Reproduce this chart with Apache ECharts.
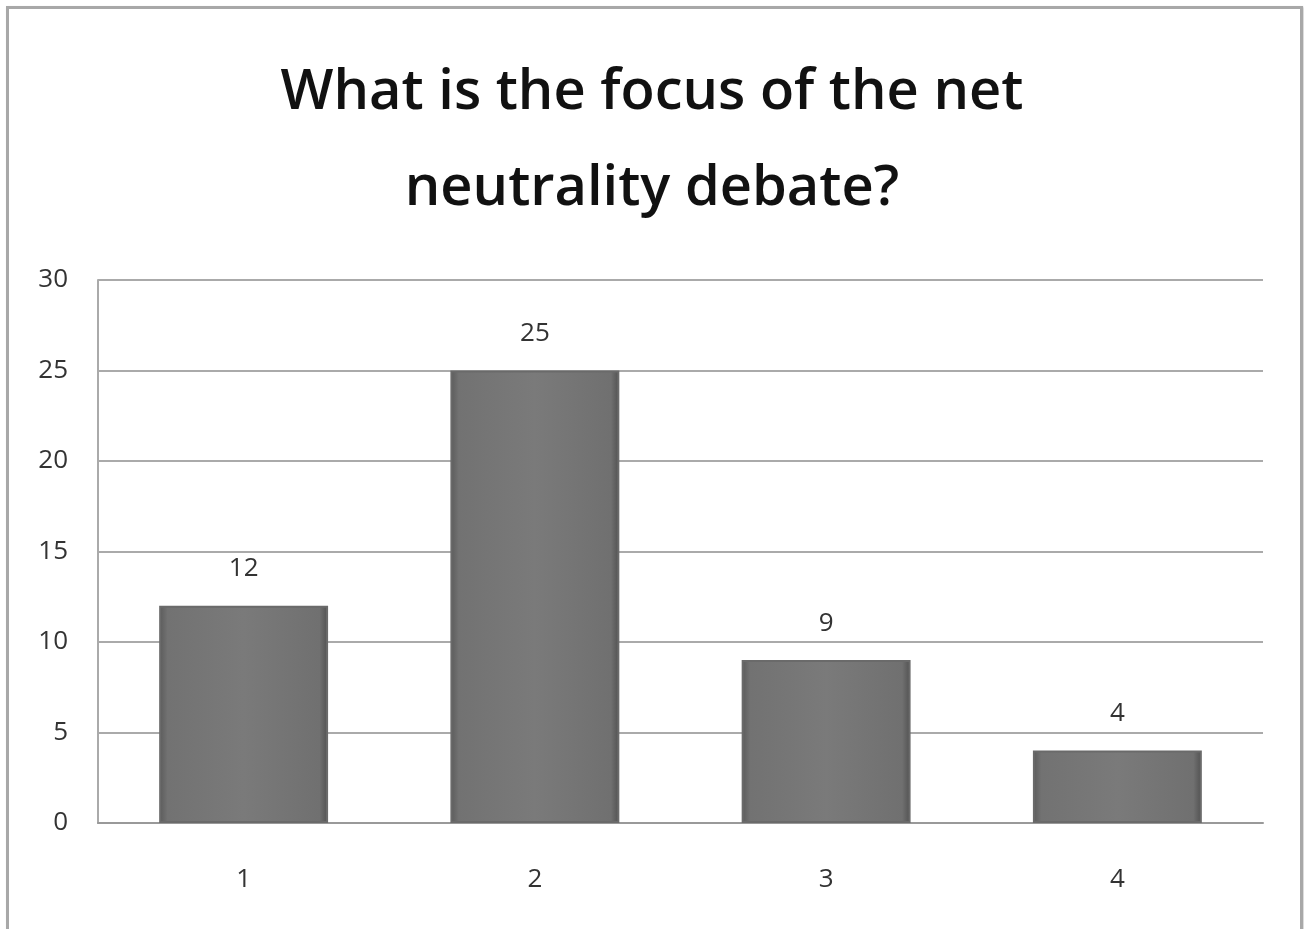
<!DOCTYPE html>
<html><head><meta charset="utf-8">
<script src="https://cdn.jsdelivr.net/npm/echarts@6/dist/echarts.min.js"></script>
<style>
html,body{margin:0;padding:0;background:#fff;overflow:hidden}
#frame{position:absolute;left:6px;top:6px;width:1291px;height:940px;border:3px solid #a8a8a8;box-shadow:1px 1px 2px #ccc;}
#c{position:absolute;left:0;top:0;width:1304px;height:929px}
</style></head>
<body>
<div id="frame"></div>
<div id="c"></div>
<script>
const titleText = "What is the focus of the net\nneutrality debate?";
const categories = ["1","2","3","4"];
const values = [12,25,9,4];
const yTicks = {min:0,max:30,interval:5};

const chart = echarts.init(document.getElementById('c'));
chart.setOption({
  animation:false,
  backgroundColor:'transparent',
  title:{text:titleText,left:'center',top:40,
    textStyle:{fontFamily:'Open Sans',fontWeight:600,fontSize:56,lineHeight:96,color:'#111'}},
  grid:{left:98,right:41,top:280,bottom:106},
  xAxis:{type:'category',data:categories,
    axisLine:{lineStyle:{color:'#999',width:2}},axisTick:{show:false},
    axisLabel:{fontFamily:'Open Sans',fontSize:26,color:'#333',margin:44}},
  yAxis:{type:'value',min:yTicks.min,max:yTicks.max,interval:yTicks.interval,
    axisLine:{show:true,lineStyle:{color:'#aaa',width:2}},axisTick:{show:false},
    splitLine:{lineStyle:{color:'#aaa',width:2}},
    axisLabel:{fontFamily:'Open Sans',fontSize:26,color:'#333',margin:30}},
  series:[{type:'bar',data:values,barWidth:'58%',
    itemStyle:{
      color:new echarts.graphic.LinearGradient(0,0,1,0,[
        {offset:0,color:'#5a5a5a'},{offset:0.05,color:'#727272'},
        {offset:0.5,color:'#7a7a7a'},{offset:0.95,color:'#707070'},{offset:1,color:'#505050'}]),
      borderColor:'#6a6a6a',borderWidth:2},
    label:{show:true,position:'top',distance:24,fontFamily:'Open Sans',fontSize:26,color:'#333'}}]
});
</script>
</body></html>
